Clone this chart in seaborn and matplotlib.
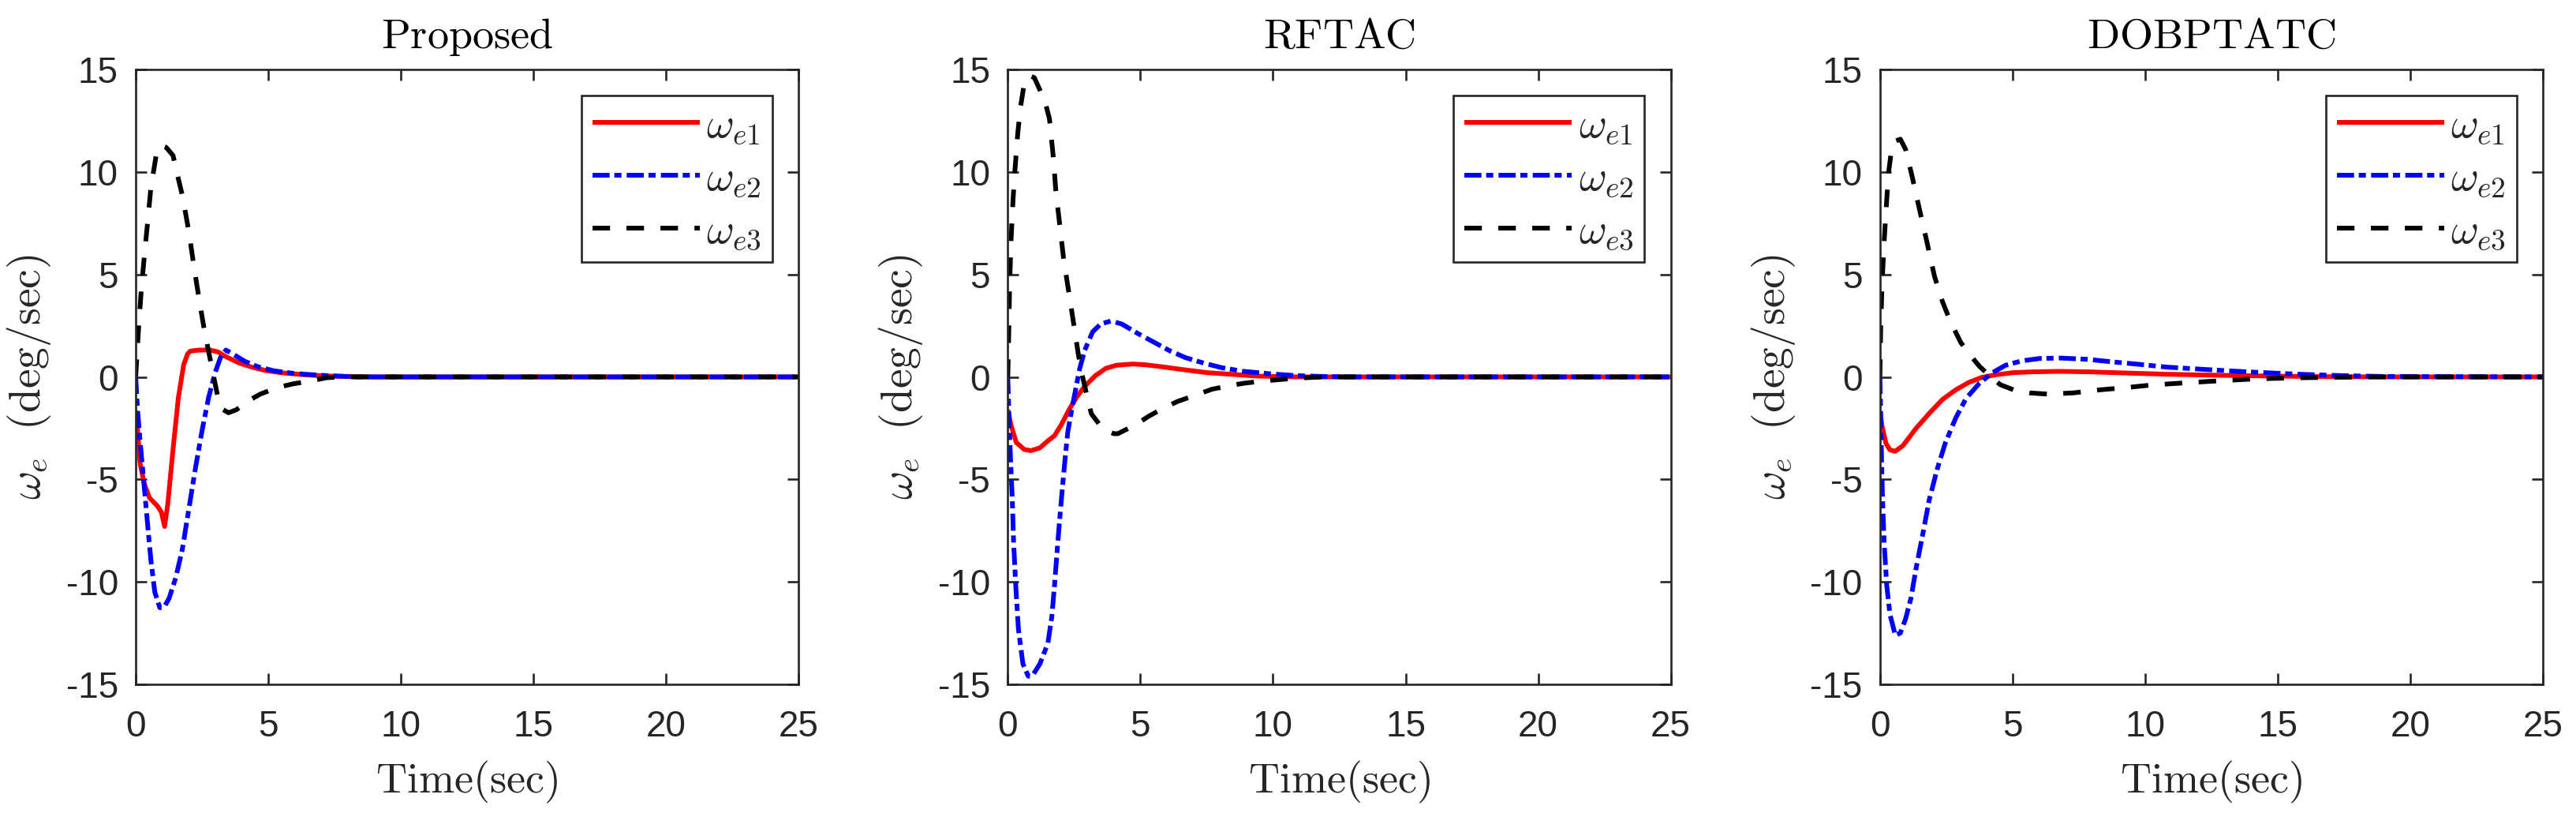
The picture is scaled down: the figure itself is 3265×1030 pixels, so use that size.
import numpy as np
import matplotlib
matplotlib.use("Agg")
import matplotlib.pyplot as plt
import seaborn as sns

# ---- data (time in sec, omega_e in deg/sec) ----
titles = ["Proposed", "RFTAC", "DOBPTATC"]

# Proposed
prop_t1 = [0, 0.07, 0.17, 0.32, 0.52, 0.82, 0.97, 1.09, 1.21, 1.41, 1.61, 1.81, 1.96, 2.06,
           2.4, 2.8, 3.1, 3.4, 3.9, 4.4, 4.9, 5.5, 6.3, 7.1, 7.9, 9, 25]
prop_w1 = [-1.65, -2.6, -4.25, -5.2, -5.9, -6.3, -6.6, -7.3, -6.2, -3.5, -1.0, 0.6, 1.13, 1.26,
           1.31, 1.31, 1.22, 0.99, 0.68, 0.47, 0.31, 0.2, 0.11, 0.05, 0.02, 0, 0]
prop_t2 = [0, 0.07, 0.17, 0.27, 0.37, 0.47, 0.57, 0.72, 0.91, 1.06, 1.26, 1.51, 1.76, 2.01,
           2.26, 2.5, 2.75, 3.0, 3.2, 3.4, 3.65, 4.1, 4.6, 5.2, 5.9, 6.6, 7.4, 8.4, 25]
prop_w2 = [0, -1.6, -3.2, -4.6, -6.05, -7.5, -8.9, -10.5, -11.26, -11.26, -10.8, -9.8, -8.4, -6.4,
           -4.4, -2.64, -1.0, 0.23, 0.95, 1.31, 1.13, 0.77, 0.5, 0.3, 0.18, 0.11, 0.05, 0, 0]
prop_t3 = [0, 0.12, 0.22, 0.37, 0.47, 0.57, 0.77, 0.95, 1.15, 1.41, 1.51, 1.76, 2.01, 2.19,
           2.39, 2.6, 2.85, 3.1, 3.3, 3.5, 3.8, 4.2, 4.7, 5.34, 5.93, 6.5, 7.2, 7.8, 25]
prop_w3 = [0, 2.6, 4.4, 6.5, 7.8, 9.2, 10.8, 11.3, 11.2, 10.8, 10.2, 8.85, 7.05, 5.44,
           3.8, 2.2, 0.6, -1.0, -1.6, -1.75, -1.6, -1.2, -0.84, -0.52, -0.34, -0.22, -0.04, 0, 0]

# RFTAC
rftac_t1 = [0, 0.12, 0.32, 0.62, 0.87, 1.21, 1.51, 1.76, 2.01, 2.31, 2.6, 2.9, 3.3, 3.7,
            4.1, 4.7, 5.2, 5.9, 6.7, 7.5, 8.4, 9.4, 10.9, 25]
rftac_w1 = [-1.6, -2.35, -3.2, -3.54, -3.6, -3.46, -3.12, -2.87, -2.35, -1.6, -0.98, -0.46, 0.06, 0.42,
            0.57, 0.63, 0.59, 0.48, 0.34, 0.21, 0.13, 0.04, 0, 0]
rftac_t2 = [0, 0.04, 0.1, 0.17, 0.22, 0.3, 0.4, 0.57, 0.77, 0.92, 1.21, 1.51, 1.66, 1.76,
            1.86, 1.96, 2.06, 2.16, 2.26, 2.41, 2.56, 2.71, 2.9, 3.2, 3.5, 3.9, 4.3, 4.9,
            5.5, 6.1, 6.7, 7.4, 8.1, 8.9, 9.9, 10.9, 11.9, 13, 25]
rftac_w2 = [0, -1.8, -3.9, -6.0, -8.1, -10.2, -12.3, -14.0, -14.6, -14.6, -14.0, -13.0, -11.7, -10.2,
            -8.5, -6.9, -5.4, -4.0, -2.7, -1.6, -0.6, 0.4, 1.3, 2.2, 2.58, 2.73, 2.58, 2.12,
            1.7, 1.28, 0.94, 0.67, 0.44, 0.27, 0.15, 0.06, 0.02, 0, 0]
rftac_t3 = [0, 0.04, 0.07, 0.12, 0.2, 0.27, 0.37, 0.47, 0.62, 0.82, 1.0, 1.21, 1.41, 1.57,
            1.71, 1.81, 1.96, 2.11, 2.31, 2.46, 2.66, 2.81, 3.0, 3.15, 3.6, 4.0, 4.15, 4.8,
            5.3, 5.9, 6.4, 7.1, 7.7, 8.4, 8.9, 9.7, 10.9, 11.9, 25]
rftac_w3 = [0, 2.4, 4.5, 6.6, 8.7, 10.1, 11.8, 13.1, 14.3, 14.7, 14.6, 14.0, 13.4, 12.6,
            10.8, 9.1, 7.4, 5.7, 4.05, 2.8, 1.1, 0.06, -1.0, -1.8, -2.56, -2.77, -2.77, -2.35,
            -1.93, -1.5, -1.2, -0.88, -0.6, -0.42, -0.31, -0.19, -0.06, 0, 0]

# DOBPTATC
dob_t1 = [0, 0.08, 0.23, 0.38, 0.58, 0.87, 1.37, 1.86, 2.36, 2.86, 3.35, 3.85, 4.35, 5.04,
          5.83, 6.8, 7.8, 9.3, 10.8, 12.8, 14.8, 17, 19, 25]
dob_w1 = [-1.68, -2.4, -3.25, -3.56, -3.63, -3.35, -2.5, -1.78, -1.1, -0.63, -0.27, -0.02, 0.1, 0.21,
          0.25, 0.27, 0.25, 0.19, 0.13, 0.08, 0.04, 0.01, 0, 0]
dob_t2 = [0, 0.03, 0.06, 0.1, 0.16, 0.26, 0.38, 0.58, 0.77, 0.97, 1.17, 1.37, 1.62, 1.86,
          2.16, 2.46, 2.86, 3.25, 3.75, 4.25, 4.74, 5.34, 6.03, 6.82, 7.8, 8.8, 9.8, 10.8,
          12.3, 13.8, 14.8, 16, 17.5, 19, 25]
dob_w2 = [0, -1.8, -3.9, -6.0, -8.1, -10.2, -11.6, -12.6, -12.5, -11.8, -10.8, -9.3, -7.65, -6.0,
          -4.5, -3.25, -2.0, -1.05, -0.31, 0.21, 0.57, 0.78, 0.9, 0.92, 0.86, 0.73, 0.61, 0.48,
          0.36, 0.25, 0.19, 0.12, 0.06, 0.02, 0]
dob_t3 = [0, 0.03, 0.08, 0.16, 0.26, 0.33, 0.43, 0.58, 0.77, 0.97, 1.22, 1.47, 1.77, 2.06,
          2.36, 2.66, 3.05, 3.35, 3.75, 4.15, 4.54, 5.04, 5.64, 6.33, 7.3, 8.3, 9.3, 10.2,
          11.5, 12.8, 14.1, 15.5, 17, 18.5, 25]
dob_w3 = [0, 2.4, 4.5, 6.6, 8.7, 10.0, 11.0, 11.5, 11.6, 11.1, 9.75, 8.3, 6.6, 4.9,
          3.67, 2.7, 1.68, 1.15, 0.52, 0.04, -0.38, -0.63, -0.78, -0.84, -0.78, -0.63, -0.52, -0.4,
          -0.29, -0.19, -0.1, -0.05, -0.02, 0, 0]

panels = [
    [(prop_t1, prop_w1), (prop_t2, prop_w2), (prop_t3, prop_w3)],
    [(rftac_t1, rftac_w1), (rftac_t2, rftac_w2), (rftac_t3, rftac_w3)],
    [(dob_t1, dob_w1), (dob_t2, dob_w2), (dob_t3, dob_w3)],
]

labels = [r"$\omega_{e1}$", r"$\omega_{e2}$", r"$\omega_{e3}$"]
colors = ["#ff0000", "#0000ff", "#000000"]
styles = ["-", (0, (15.6, 4.3, 6.5, 4.8)), (0, (16, 15))]

# ---- style ----
sns.set_style("ticks")
plt.rcParams["font.family"] = ["Liberation Sans", "DejaVu Sans"]
plt.rcParams["mathtext.fontset"] = "cm"
plt.rcParams["lines.scale_dashes"] = False
axcol = "#262626"

fig, axes = plt.subplots(1, 3, figsize=(32.66, 10.30), dpi=100)
fig.subplots_adjust(left=0.05266, right=0.98683, bottom=0.15825, top=0.91456, wspace=0.3155)

for ax, title, series in zip(axes, titles, panels):
    for (t, w), lab, col, ls in zip(series, labels, colors, styles):
        sns.lineplot(x=t, y=w, ax=ax, color=col, linewidth=4.3, linestyle=ls,
                     label=lab, sort=False, errorbar=None,
                     solid_capstyle="butt", dash_capstyle="butt")

    ax.set_xlim(0, 25)
    ax.set_ylim(-15, 15)
    ax.set_xticks([0, 5, 10, 15, 20, 25])
    ax.set_yticks([-15, -10, -5, 0, 5, 10, 15])
    ax.set_yticklabels(["-15", "-10", "-5", "0", "5", "10", "15"])
    ax.tick_params(direction="in", length=10, width=1.9, colors=axcol,
                   labelsize=33, top=True, right=True)
    ax.tick_params(axis="x", pad=23)
    ax.tick_params(axis="y", pad=16)
    for sp in ax.spines.values():
        sp.set_visible(True)
        sp.set_linewidth(1.9)
        sp.set_color(axcol)

    ax.set_title(r"$\mathrm{" + title + "}$", fontsize=39, pad=19.5, color="black")
    ax.set_xlabel(r"$\mathrm{Time(sec)}$", fontsize=39, labelpad=14, color=axcol)
    ax.set_ylabel(r"$\omega_e\ \ \mathrm{(deg/sec)}$", fontsize=40, labelpad=12, color=axcol)

    leg = ax.legend(loc="upper right", fontsize=38.5, frameon=True, fancybox=False,
                    framealpha=1, edgecolor=axcol, handlelength=2.54, handletextpad=0.16,
                    borderaxespad=0.62, borderpad=0.26, labelspacing=0.31)
    leg.get_frame().set_linewidth(1.9)

fig.savefig("out.png", dpi=100)
